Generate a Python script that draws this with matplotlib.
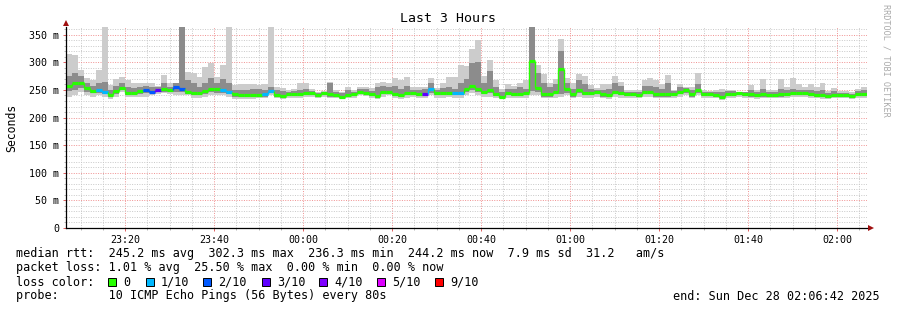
import matplotlib
matplotlib.use("Agg")
import matplotlib.pyplot as plt
import matplotlib.dates as mdates
from matplotlib.patches import Rectangle, Polygon
from matplotlib.ticker import MultipleLocator, FixedLocator
import pandas as pd

# --- data: one value per 80 s step, 23:06:42 -> 02:06:42 ---
start_time = "2025-12-27 23:06:42"
step = "80s"

median_ms = [
    258, 262, 262, 253, 249, 250, 246, 241, 248, 254, 245, 244, 248, 250, 247,
    250, 251, 250, 256, 251, 247, 244, 245, 248, 252, 251, 250, 247, 242, 241,
    240, 240, 241, 242, 248, 241, 239, 242, 242, 242, 244, 244, 241, 244, 242,
    241, 238, 240, 242, 247, 245, 242, 239, 246, 247, 242, 241, 245, 244, 242,
    242, 251, 244, 244, 244, 244, 244, 251, 258, 251, 247, 250, 243, 238, 244,
    243, 243, 244, 302, 254, 242, 242, 247, 288, 251, 242, 250, 245, 244, 247,
    242, 241, 247, 244, 242, 242, 241, 247, 247, 242, 242, 242, 242, 247, 250,
    242, 250, 242, 242, 241, 238, 242, 242, 244, 242, 242, 241, 242, 240, 240,
    242, 243, 244, 244, 244, 243, 241, 241, 239, 241, 240, 240, 239, 243, 243,
]

# lost pings out of 10, per step
loss = [
    0, 0, 0, 0, 0, 1, 1, 0, 0, 0, 0, 0, 0, 2, 2,
    3, 0, 0, 2, 2, 0, 0, 0, 0, 0, 0, 1, 1, 0, 0,
    0, 0, 0, 1, 1, 0, 0, 0, 0, 0, 0, 0, 0, 0, 0,
    0, 0, 0, 0, 0, 0, 0, 0, 0, 0, 0, 0, 0, 0, 0,
    3, 1, 0, 0, 0, 1, 1, 0, 0, 0, 0, 0, 0, 0, 0,
    0, 0, 0, 0, 0, 0, 0, 0, 0, 0, 0, 0, 0, 0, 0,
    0, 0, 0, 0, 0, 0, 0, 0, 0, 0, 0, 0, 0, 0, 0,
    0, 0, 0, 0, 0, 0, 0, 0, 0, 0, 0, 0, 0, 0, 0,
    0, 0, 0, 0, 0, 0, 0, 0, 0, 0, 0, 0, 0, 0, 0,
]

ping_max = [
    316, 313, 287, 271, 268, 287, 364, 259, 269, 273, 268, 263, 263, 263, 263,
    258, 277, 263, 263, 364, 283, 280, 274, 291, 299, 274, 295, 364, 259, 260,
    260, 260, 259, 260, 364, 256, 254, 250, 251, 262, 262, 251, 247, 248, 264,
    250, 247, 256, 250, 256, 256, 253, 263, 265, 262, 271, 268, 274, 256, 256,
    256, 271, 253, 262, 273, 273, 295, 293, 324, 340, 276, 304, 268, 252, 260,
    258, 262, 268, 364, 295, 278, 262, 270, 343, 271, 262, 279, 275, 259, 253,
    261, 261, 275, 265, 250, 250, 250, 268, 271, 268, 261, 277, 250, 260, 256,
    256, 281, 250, 248, 250, 252, 250, 250, 247, 247, 259, 250, 269, 250, 250,
    270, 256, 272, 260, 256, 260, 256, 262, 248, 254, 248, 248, 246, 252, 256,
]

ping_min = [
    238, 240, 246, 240, 238, 240, 237, 233, 238, 246, 238, 237, 238, 238, 240,
    243, 244, 242, 240, 241, 240, 236, 236, 238, 240, 240, 240, 238, 234, 234,
    234, 234, 236, 236, 240, 235, 234, 236, 236, 236, 238, 238, 236, 238, 236,
    235, 233, 235, 236, 240, 239, 236, 234, 238, 240, 236, 233, 236, 238, 236,
    236, 240, 236, 236, 238, 236, 236, 240, 244, 240, 238, 238, 236, 233, 236,
    236, 236, 236, 240, 240, 236, 235, 236, 238, 240, 236, 238, 236, 236, 238,
    236, 234, 238, 236, 236, 236, 235, 238, 238, 236, 236, 236, 236, 238, 240,
    236, 240, 235, 236, 235, 232, 236, 236, 238, 236, 236, 234, 236, 235, 235,
    236, 236, 238, 238, 238, 236, 236, 234, 234, 235, 235, 235, 234, 236, 236,
]

ping_q3 = [
    275, 281, 275, 263, 258, 263, 265, 250, 258, 262, 256, 254, 256, 258, 256,
    256, 262, 256, 262, 364, 268, 262, 256, 262, 272, 262, 270, 262, 250, 250,
    250, 252, 252, 250, 256, 250, 248, 246, 248, 250, 252, 248, 245, 246, 262,
    246, 244, 250, 246, 252, 252, 248, 255, 258, 255, 258, 252, 258, 250, 250,
    252, 262, 250, 254, 255, 252, 262, 270, 298, 300, 262, 285, 255, 246, 252,
    252, 255, 252, 364, 280, 262, 255, 260, 320, 262, 252, 268, 260, 252, 250,
    250, 252, 262, 258, 246, 246, 246, 258, 258, 256, 252, 262, 248, 256, 254,
    250, 260, 246, 246, 246, 246, 248, 248, 246, 246, 250, 246, 252, 246, 246,
    252, 250, 252, 250, 250, 250, 248, 250, 244, 248, 244, 244, 243, 248, 250,
]

ping_q1 = [
    248, 250, 254, 246, 244, 244, 242, 237, 243, 250, 241, 240, 242, 244, 244,
    246, 247, 246, 246, 246, 243, 240, 240, 243, 246, 245, 244, 243, 238, 238,
    237, 237, 238, 238, 244, 238, 236, 239, 239, 239, 241, 241, 238, 241, 238,
    238, 235, 237, 239, 243, 242, 239, 236, 242, 243, 239, 237, 241, 241, 239,
    239, 245, 240, 240, 241, 240, 240, 246, 250, 246, 243, 244, 239, 235, 240,
    239, 239, 240, 248, 246, 238, 238, 242, 242, 245, 238, 244, 240, 240, 242,
    238, 237, 242, 240, 239, 239, 238, 242, 242, 238, 238, 238, 239, 243, 245,
    238, 245, 239, 239, 238, 235, 239, 239, 240, 239, 238, 237, 238, 237, 237,
    238, 239, 240, 240, 240, 239, 238, 237, 236, 238, 237, 237, 236, 239, 239,
]

loss_labels = ["0", "1/10", "2/10", "3/10", "4/10", "5/10", "9/10"]
loss_colors = ["#26ff00", "#00b8ff", "#0059ff", "#5e00ff", "#7e00ff", "#dd00ff", "#ff0000"]
loss_levels = [0, 1, 2, 3, 4, 5, 9]

W, H = 897, 310
MONO = "DejaVu Sans Mono"
FS = 8.5


def px(x, y):
    # pixel position in the picture -> figure fraction
    return x / W, 1 - y / H


edges = pd.date_range(start_time, periods=len(median_ms) + 1, freq=step)
edges = mdates.date2num(edges.to_pydatetime())

fig = plt.figure(figsize=(W / 100, H / 100), dpi=100)
ax = fig.add_axes([66 / W, 82 / H, 801 / W, 201 / H])

# smoke
ax.stairs(ping_max, edges, baseline=ping_min, fill=True, color="#cccccc", zorder=2)
ax.stairs(ping_q3, edges, baseline=ping_q1, fill=True, color="#8c8c8c", zorder=3)

# median line coloured by loss
col_of = dict(zip(loss_levels, loss_colors))
seg_colors = [col_of.get(l, "#ff0000") for l in loss]
ax.hlines(median_ms, edges[:-1], edges[1:], colors=seg_colors, linewidth=2.3, zorder=5)
ax.vlines(edges[1:-1], median_ms[:-1], median_ms[1:], colors=seg_colors[1:],
          linewidth=1.0, zorder=5)

ax.set_xlim(edges[0], edges[-1])
ax.set_ylim(0, 364)

# grid
ax.yaxis.set_major_locator(FixedLocator(range(0, 351, 50)))
ax.yaxis.set_minor_locator(MultipleLocator(10))
ax.xaxis.set_major_locator(mdates.MinuteLocator(byminute=[0, 20, 40]))
ax.xaxis.set_minor_locator(mdates.MinuteLocator(byminute=range(0, 60, 5)))
ax.xaxis.set_major_formatter(mdates.DateFormatter("%H:%M"))
ax.set_yticklabels(["0" if v == 0 else f"{v} m" for v in range(0, 351, 50)])

ax.grid(which="minor", color="#c8c8c8", linestyle=(0, (1, 1.5)), linewidth=0.7, zorder=1)
ax.grid(which="major", color="#f09090", linestyle=(0, (1, 1.5)), linewidth=0.7, zorder=1)
ax.set_axisbelow(True)

for s in ["top", "right"]:
    ax.spines[s].set_visible(False)
for s in ["left", "bottom"]:
    ax.spines[s].set_color("black")
    ax.spines[s].set_linewidth(0.9)
    ax.spines[s].set_zorder(6)

ax.tick_params(which="major", length=2, width=0.7, color="#e06060", pad=3,
               labelsize=7.2, labelfontfamily=MONO)
ax.tick_params(which="minor", length=1.5, width=0.6, color="#aaaaaa")

ax.set_ylabel("Seconds", fontsize=8.3, family=MONO)
ax.yaxis.set_label_coords(-48 / 801, 0.5)

# axis arrows
fig.add_artist(Polygon([px(63, 26), px(69, 26), px(66, 20)], closed=True,
                       transform=fig.transFigure, color="#a01010", lw=0))
fig.add_artist(Polygon([px(868, 225), px(868, 231), px(874, 228)], closed=True,
                       transform=fig.transFigure, color="#a01010", lw=0))

# title and side text
fig.text(*px(448, 19), "Last 3 Hours", ha="center", va="center", fontsize=9.5, family=MONO)
fig.text(*px(886, 4), "RRDTOOL / TOBI OETIKER", rotation=270, ha="center", va="top",
         fontsize=6.1, family=MONO, color="#aaaaaa")


def put(x, y, s, **kw):
    fig.text(*px(x, y), s, ha="left", va="center", fontsize=FS, family=MONO, **kw)


# legend block
put(16, 254, "median rtt:  245.2 ms avg  302.3 ms max  236.3 ms min  "
             "244.2 ms now  7.9 ms sd  31.2   am/s")
put(16, 268, "packet loss: 1.01 % avg  25.50 % max  0.00 % min  0.00 % now")

put(16, 282, "loss color:")
box_x = [108, 146, 203, 262, 319, 377, 435]
for bx, lab, c in zip(box_x, loss_labels, loss_colors):
    fig.add_artist(Rectangle(px(bx, 286), 8 / W, 8 / H, transform=fig.transFigure,
                             facecolor=c, edgecolor="black", linewidth=0.7))
    put(bx + 15, 282, lab)

put(16, 296, "probe:       10 ICMP Echo Pings (56 Bytes) every 80s")
fig.text(*px(880, 296), "end: Sun Dec 28 02:06:42 2025", ha="right", va="center",
         fontsize=FS, family=MONO)

fig.savefig("out.png", dpi=100)
